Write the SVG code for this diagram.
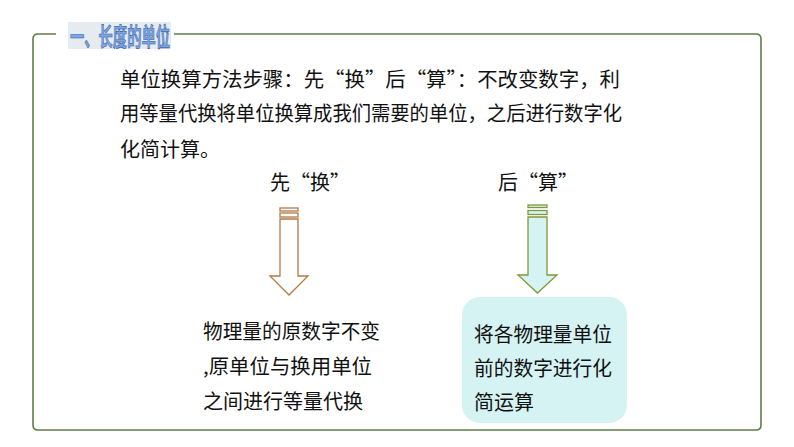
<svg xmlns="http://www.w3.org/2000/svg" width="794" height="447" viewBox="0 0 794 447">
<style>
.t{font-family:"Noto Sans CJK SC","Noto Sans",sans-serif;font-size:20px;fill:#111}
.frame{fill:none;stroke:#5e7d45;stroke-width:1.6}
.arrL{fill:#fff;stroke:#b47a42;stroke-width:1.3}
.arrR{fill:#d6f3f3;stroke:#7f9a3a;stroke-width:1.3}
</style>
<rect width="794" height="447" fill="#fff"/>
<g id="frame">
<path class="frame" d="M56,34 H38 Q33,34 33,39 V425 Q33,430 38,430 H756 Q761,430 761,425 V39 Q761,34 756,34 H174"/>
</g>
<g id="title">
<rect x="68" y="22" width="103" height="27" fill="#e6ebf0"/>
<text x="70" y="46" font-family="Noto Sans CJK SC,sans-serif" font-size="25" font-weight="bold" fill="#7aa6e2" stroke="#2c4f9e" stroke-width="0.6" textLength="100" lengthAdjust="spacingAndGlyphs">一、长度的单位</text>
</g>
<g id="intro">
<text class="t" x="120" y="87" textLength="500" lengthAdjust="spacingAndGlyphs">单位换算方法步骤：先“换”后“算”：不改变数字，利</text>
<text class="t" x="120" y="121" textLength="502" lengthAdjust="spacingAndGlyphs">用等量代换将单位换算成我们需要的单位，之后进行数字化</text>
<text class="t" x="120" y="157">化简计算。</text>
</g>
<g id="label-left">
<text class="t" x="270" y="190">先“换”</text>
</g>
<g id="label-right">
<text class="t" x="498" y="190">后“算”</text>
</g>
<g id="connectors">
<g id="arrow-left">
<rect class="arrL" x="280" y="208" width="18" height="3"/>
<rect class="arrL" x="280" y="213" width="18" height="4"/>
<path class="arrL" d="M280,219 H298 V276 H308 L289,295 L270,276 H280 Z"/>
</g>
<g id="arrow-right">
<rect class="arrR" x="528" y="205" width="19" height="2.5"/>
<rect class="arrR" x="528" y="210.5" width="19" height="4"/>
<path class="arrR" d="M528,217 H547 V275 H557 L537.5,293 L518,275 H528 Z"/>
</g>
</g>
<g id="node-left">
<text class="t" x="203" y="339" textLength="177" lengthAdjust="spacingAndGlyphs">物理量的原数字不变</text>
<text class="t" x="203" y="374" textLength="169" lengthAdjust="spacingAndGlyphs">,原单位与换用单位</text>
<text class="t" x="203" y="409">之间进行等量代换</text>
</g>
<g id="node-right">
<rect x="462" y="297" width="165" height="126" rx="18" fill="#d6f3f3"/>
<text class="t" x="474" y="342" textLength="138" lengthAdjust="spacingAndGlyphs">将各物理量单位</text>
<text class="t" x="474" y="376" textLength="138" lengthAdjust="spacingAndGlyphs">前的数字进行化</text>
<text class="t" x="474" y="410">简运算</text>
</g>
</svg>
